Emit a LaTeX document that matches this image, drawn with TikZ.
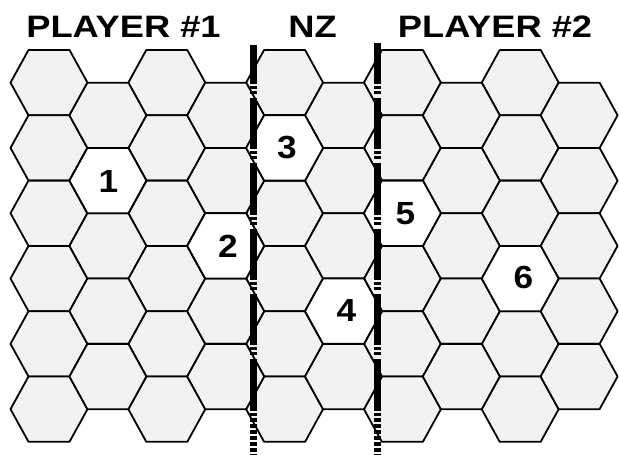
\documentclass[tikz,border=0pt]{standalone}
\usepackage{fontspec}
\setmainfont{Liberation Sans}
\usepackage{tikz}

\tikzset{
  hexcell/.style={draw=black, line width=1.8pt, fill=black!5, line join=round},
  hexfree/.style={hexcell, fill=white},
  zoneline/.style={draw=black, line width=7pt,
    dash pattern=on 51.3pt off 2pt on 3pt off 2pt on 3pt off 4pt},
  zonetail/.style={draw=black, line width=7pt, dash pattern=on 3.5pt off 2.5pt},
  headtext/.style={font=\bfseries\fontsize{31}{32}\selectfont, xscale=1.17,
    anchor=base, inner sep=0pt},
  hexnum/.style={font=\bfseries\fontsize{32}{34}\selectfont, xscale=1.1, inner sep=0pt}
}

\begin{document}
\begin{tikzpicture}[x=1pt, y=-1pt]
  \useasboundingbox (0,0) rectangle (619,455);

  %hex field:
  %odd columns
  \foreach \c in {0,2,4,6,8}
    \foreach \k in {0,...,5}
      \draw[hexcell] (10.5+\c*58.9, 82.65+\k*65.3) -- ++(18,-32.65) -- ++(41,0)
        -- ++(18,32.65) -- ++(-18,32.65) -- ++(-41,0) -- cycle;
  %even columns
  \foreach \c in {1,3,5,7,9}
    \foreach \k in {0,...,4}
      \draw[hexcell] (10.5+\c*58.9, 115.3+\k*65.3) -- ++(18,-32.65) -- ++(41,0)
        -- ++(18,32.65) -- ++(-18,32.65) -- ++(-41,0) -- cycle;

  %numbered hexes
  \foreach \x/\y in {107.9/180.6, 225.7/245.9, 284.6/147.95,
                     343.5/311.2, 402.4/213.25, 520.2/278.55}
    \draw[hexfree] (\x-38.5, \y) -- ++(18,-32.65) -- ++(41,0)
      -- ++(18,32.65) -- ++(-18,32.65) -- ++(-41,0) -- cycle;

  \node[hexnum] (n1) at (108.5,181) {1};
  \node[hexnum] (n2) at (228,246) {2};
  \node[hexnum] (n3) at (287,148) {3};
  \node[hexnum] (n4) at (346.5,310.5) {4};
  \node[hexnum] (n5) at (405.5,214) {5};
  \node[hexnum] (n6) at (523.5,277.5) {6};

  %zone borders:
  \draw[zoneline, dash phase=12.3pt] (253.5,45) -- (253.5,418);
  \draw[zonetail] (253.5,418) -- (253.5,455);
  \draw[zoneline, dash phase=10.3pt] (377.5,43) -- (377.5,418);
  \draw[zonetail] (377.5,418) -- (377.5,455);

  %headings
  \node[headtext] (player1) at (123.5,37) {PLAYER \#1};
  \node[headtext] (nz) at (312.5,37) {NZ};
  \node[headtext] (player2) at (495,37) {PLAYER \#2};
\end{tikzpicture}
\end{document}
